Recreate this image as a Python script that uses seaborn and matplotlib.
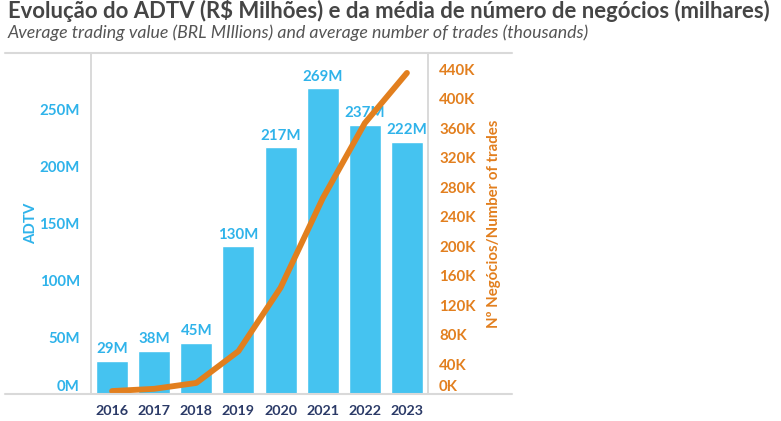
import numpy as np
import pandas as pd
import matplotlib
matplotlib.use("Agg")
import matplotlib.pyplot as plt
import seaborn as sns
from matplotlib.lines import Line2D

years = ["2016", "2017", "2018", "2019", "2020", "2021", "2022", "2023"]
adtv = [29, 38, 45, 130, 217, 269, 237, 222]          # R$ millions
trades = [4, 7, 15, 58, 144, 265, 367, 435]            # thousands
adtv_labels = ["29M", "38M", "45M", "130M", "217M", "269M", "237M", "222M"]
left_ticks = [0, 50, 100, 150, 200, 250]
right_ticks = [0, 40, 80, 120, 160, 200, 240, 280, 320, 360, 400, 440]

BLUE = "#45C3F0"
BLUE_TXT = "#2FB3EA"
ORANGE = "#E27F1E"
NAVY = "#2B3A67"
GRID = "#D9D9D9"

sns.set_theme(style="white")
plt.rcParams["font.family"] = ["Lato", "DejaVu Sans"]

W, H = 781, 421
fig = plt.figure(figsize=(W / 100, H / 100), dpi=100)
ax = fig.add_axes([91 / W, 1 - 394 / H, (428 - 91) / W, (394 - 53) / H])

df = pd.DataFrame({"year": years, "adtv": adtv})
sns.barplot(data=df, x="year", y="adtv", color=BLUE, width=0.76, ax=ax,
            saturation=1)
ax.set_xlim(-0.5, 7.5)
ax.set_ylim(0, 300)
ax.set_yticks(left_ticks)
lt = ax.set_yticklabels([f"{t}M" for t in left_ticks], color=BLUE_TXT,
                        fontsize=10.8, fontweight="bold")
lt[0].set_va("bottom")
ax.tick_params(axis="y", length=0, pad=8)
ax.tick_params(axis="x", length=0, pad=8)
for lab in ax.get_xticklabels():
    lab.set_color(NAVY)
    lab.set_fontweight("bold")
    lab.set_fontsize(10.3)
ax.set_xlabel("")
ax.set_ylabel("ADTV", color=BLUE_TXT, fontsize=10.8, fontweight="bold",
              labelpad=1)

for i, (v, t) in enumerate(zip(adtv, adtv_labels)):
    ax.text(i, v + 4, t, ha="center", va="bottom", color=BLUE_TXT,
            fontsize=10.8, fontweight="bold")

ax2 = ax.twinx()
sns.lineplot(x=np.arange(len(years)), y=trades, ax=ax2, color=ORANGE,
             linewidth=4.2, solid_capstyle="round")
ax2.set_ylim(0, 462)
ax2.set_yticks(right_ticks)
rt = ax2.set_yticklabels([f"{t}K" for t in right_ticks], color=ORANGE,
                         fontsize=10.8, fontweight="bold")
rt[0].set_va("bottom")
ax2.tick_params(axis="y", length=0, pad=8)
ax2.set_ylabel("Nº Negócios/Number of trades", color=ORANGE, fontsize=10.8,
               fontweight="bold", labelpad=8)

for a in (ax, ax2):
    a.spines["top"].set_visible(False)
    a.spines["bottom"].set_visible(False)
    a.spines["left"].set_color(GRID)
    a.spines["right"].set_color(GRID)
    a.spines["left"].set_linewidth(1.2)
    a.spines["right"].set_linewidth(1.2)

fig.add_artist(Line2D([5 / W, 512 / W], [1 - 53 / H, 1 - 53 / H],
                      color=GRID, lw=1.5, transform=fig.transFigure))
fig.add_artist(Line2D([5 / W, 512 / W], [1 - 394 / H, 1 - 394 / H],
                      color=GRID, lw=1.5, transform=fig.transFigure))

fig.text(8 / W, 1 - 11 / H,
         "Evolução do ADTV (R$ Milhões) e da média de número de negócios (milhares)",
         ha="left", va="center", fontsize=15.9, fontweight="bold", color="#454545")
fig.text(8 / W, 1 - 32.5 / H,
         "Average trading value (BRL MIllions) and average number of trades (thousands)",
         ha="left", va="center", fontsize=12.75, fontstyle="italic", color="#555555")

fig.savefig("out.png", dpi=100)
